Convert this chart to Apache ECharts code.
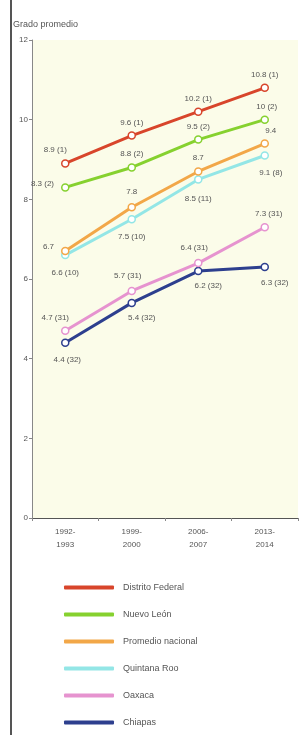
<!DOCTYPE html>
<html>
<head>
<meta charset="utf-8">
<script src="https://cdn.jsdelivr.net/npm/echarts@6/dist/echarts.min.js"></script>
<style>
  html, body { margin: 0; padding: 0; background: #fff; }
  #chart { width: 305px; height: 735px; }
</style>
</head>
<body>
<div id="chart"></div>
<script>
// categorias (periodos)
const categories = ['1992-\n1993', '1999-\n2000', '2006-\n2007', '2013-\n2014'];
const yTicks = [0, 2, 4, 6, 8, 10, 12];

const distritoFederal = [8.9, 9.6, 10.2, 10.8];
const rankDF = [1, 1, 1, 1];
const nuevoLeon = [8.3, 8.8, 9.5, 10];
const rankNL = [2, 2, 2, 2];
const promedioNacional = [6.7, 7.8, 8.7, 9.4];
const quintanaRoo = [6.6, 7.5, 8.5, 9.1];
const rankQR = [10, 10, 11, 8];
const oaxaca = [4.7, 5.7, 6.4, 7.3];
const rankOax = [31, 31, 31, 31];
const chiapas = [4.4, 5.4, 6.2, 6.3];
const rankChis = [32, 32, 32, 32];

const names = ['Distrito Federal', 'Nuevo León', 'Promedio nacional', 'Quintana Roo', 'Oaxaca', 'Chiapas'];
const colors = ['#d8452b', '#86d12f', '#f2a748', '#93e6e6', '#e693cf', '#2d3f8e'];

// posicion de etiqueta por punto
const labelPos = [
  [['top', [-10, 0]], ['top', [0, 0]], ['top', [0, 0]], ['top', [0, 0]]],
  [['left', [-2, -4]], ['top', [0, 0]], ['top', [0, 0]], ['top', [2, 0]]],
  [['left', [-2, -4]], ['top', [0, -2]], ['top', [0, 0]], ['top', [6, 0]]],
  [['bottom', [0, 4]], ['bottom', [0, 4]], ['bottom', [0, 6]], ['bottom', [6, 4]]],
  [['top', [-10, 0]], ['top', [-4, -2]], ['top', [-4, -2]], ['top', [4, 0]]],
  [['bottom', [2, 4]], ['bottom', [10, 2]], ['bottom', [10, 2]], ['bottom', [10, 2]]]
];

const buildData = (vals, ranks, idx) => {
  return vals.map((v, i) => {
    let txt = ranks ? `${v} (${ranks[i]})` : `${v}`;
    return {
      value: v,
      label: { show: true, position: labelPos[idx][i][0], offset: labelPos[idx][i][1], formatter: txt }
    };
  });
};

const allVals = [distritoFederal, nuevoLeon, promedioNacional, quintanaRoo, oaxaca, chiapas];
const allRanks = [rankDF, rankNL, null, rankQR, rankOax, rankChis];

const series = allVals.map((vals, i) => {
  return {
    name: names[i],
    type: 'line',
    data: buildData(vals, allRanks[i], i),
    symbol: 'circle',
    symbolSize: 7,
    showAllSymbol: true,
    itemStyle: { color: '#fff', borderColor: colors[i], borderWidth: 1.5 },
    lineStyle: { color: colors[i], width: 3 },
    label: { fontSize: 8, color: '#555', fontFamily: 'Liberation Sans' },
    z: 10 - i
  };
});

const chart = echarts.init(document.getElementById('chart'));
const option = {
  animation: false,
  title: {
    text: 'Grado promedio',
    left: 8,
    top: 15,
    textStyle: { fontSize: 9, fontWeight: 'normal', color: '#555', fontFamily: 'Liberation Sans' }
  },
  graphic: [
    { type: 'rect', left: 10, top: 0, shape: { width: 2, height: 735 }, style: { fill: '#555' } }
  ],
  grid: {
    left: 32, right: 7, top: 40, bottom: 217,
    show: true, backgroundColor: '#fbfce9', borderWidth: 0
  },
  xAxis: {
    type: 'category',
    data: categories,
    boundaryGap: true,
    axisLine: { lineStyle: { color: '#555', width: 1 } },
    axisTick: { show: true, length: 3, lineStyle: { color: '#888' } },
    axisLabel: { fontSize: 8, color: '#555', lineHeight: 13, margin: 7, fontFamily: 'Liberation Sans' }
  },
  yAxis: {
    type: 'value',
    min: yTicks[0],
    max: yTicks[yTicks.length - 1],
    interval: 2,
    axisLine: { show: true, lineStyle: { color: '#888', width: 1 } },
    axisTick: { show: true, length: 3, lineStyle: { color: '#888' } },
    splitLine: { show: false },
    axisLabel: { fontSize: 8, color: '#555', margin: 4, fontFamily: 'Liberation Sans' }
  },
  legend: {
    orient: 'vertical',
    left: 64,
    top: 583,
    height: 200,
    padding: 0,
    itemWidth: 50,
    itemHeight: 4,
    itemGap: 18,
    icon: 'roundRect',
    data: names.map((n, i) => ({ name: n, itemStyle: { color: colors[i], borderWidth: 0 } })),
    textStyle: { fontSize: 9, color: '#555', padding: [0, 0, 0, 4], fontFamily: 'Liberation Sans' }
  },
  series: series
};
chart.setOption(option);
</script>
</body>
</html>
